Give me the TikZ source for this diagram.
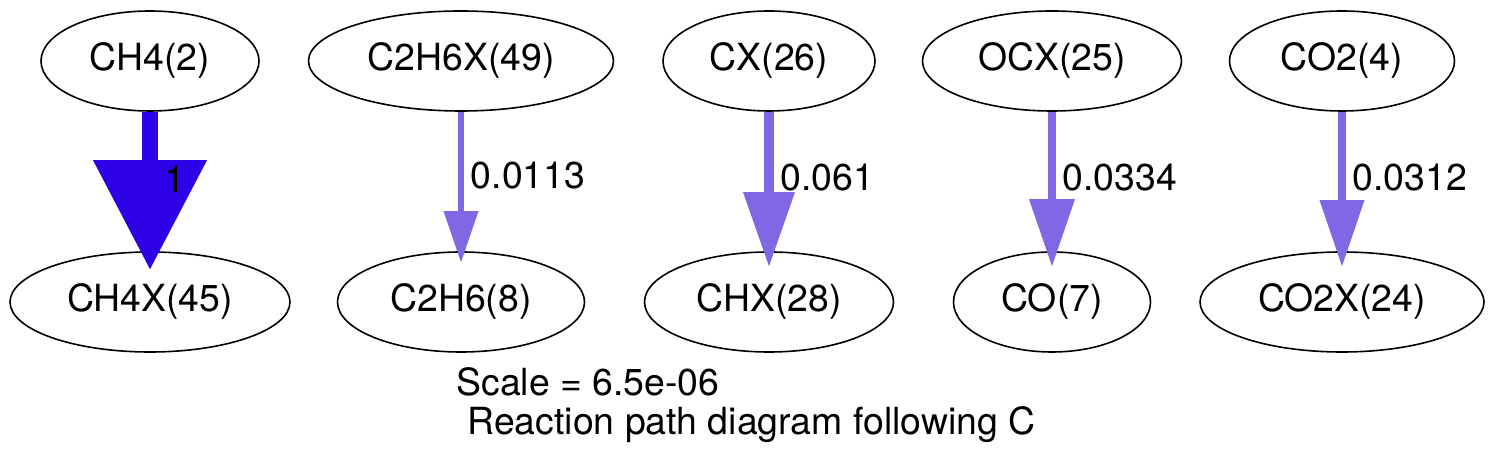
\documentclass[tikz,border=0pt]{standalone}
\usepackage{fontspec}
\setmainfont{TeX Gyre Heros}
\usetikzlibrary{shapes.geometric,arrows.meta}

\definecolor{fluxstrong}{RGB}{46,0,230}
\definecolor{fluxweak}{RGB}{129,103,230}

\begin{document}
\begin{tikzpicture}[x=0.5pt, y=-0.5pt,
    species/.style={draw, ellipse, line width=0.8pt, inner sep=0pt,
        minimum height=50pt, font=\fontsize{18.7}{22}\selectfont},
    fluxlabel/.style={anchor=west, yshift=5.5pt, text=black,
        font=\fontsize{18.7}{22}\selectfont}]
    \useasboundingbox (0,0) rectangle (1494,469);

    % Top row of species (sources)
    \node[species, minimum width=109pt] (ch4) at (150,61) {CH4(2)};
    \node[species, minimum width=152.5pt] (c2h6x) at (461,61) {C2H6X(49)};
    \node[species, minimum width=106pt] (cx) at (769,61) {CX(26)};
    \node[species, minimum width=129.5pt] (ocx) at (1052,61) {OCX(25)};
    \node[species, minimum width=112.5pt] (co2) at (1342,61) {CO2(4)};

    % Bottom row of species (products)
    \node[species, minimum width=140pt] (ch4x) at (150,302) {CH4X(45)};
    \node[species, minimum width=123.5pt] (c2h6) at (461,302) {C2H6(8)};
    \node[species, minimum width=124.5pt] (chx) at (769,302) {CHX(28)};
    \node[species, minimum width=98.5pt] (co) at (1052,302) {CO(7)};
    \node[species, minimum width=142pt] (co2x) at (1342,302) {CO2X(24)};

    % Flux arrows, width follows the relative flux
    \draw[fluxstrong, line width=8pt, -{Triangle[length=54.5pt, width=57pt, line width=0pt]}]
        (ch4.south) -- node[fluxlabel] {1} ([yshift=-9pt]ch4x.north);
    \draw[fluxweak, line width=3.25pt, -{Triangle[length=25.5pt, width=17.5pt, line width=0pt]}]
        (c2h6x.south) -- node[fluxlabel] {0.0113} ([yshift=-5.5pt]c2h6.north);
    \draw[fluxweak, line width=5pt, -{Triangle[length=37pt, width=26pt, line width=0pt]}]
        (cx.south) -- node[fluxlabel] {0.061} ([yshift=-7.5pt]chx.north);
    \draw[fluxweak, line width=4pt, -{Triangle[length=33.5pt, width=23pt, line width=0pt]}]
        (ocx.south) -- node[fluxlabel] {0.0334} ([yshift=-7.5pt]co.north);
    \draw[fluxweak, line width=4pt, -{Triangle[length=33pt, width=22.5pt, line width=0pt]}]
        (co2.south) -- node[fluxlabel] {0.0312} ([yshift=-7.5pt]co2x.north);

    % Caption
    \node[anchor=west, inner sep=0pt, font=\fontsize{18.7}{22}\selectfont] (scale) at (456,382) {Scale = 6.5e-06};
    \node[anchor=west, inner sep=0pt, font=\fontsize{18.7}{22}\selectfont] (title) at (467,425) {Reaction path diagram following C};
\end{tikzpicture}
\end{document}
